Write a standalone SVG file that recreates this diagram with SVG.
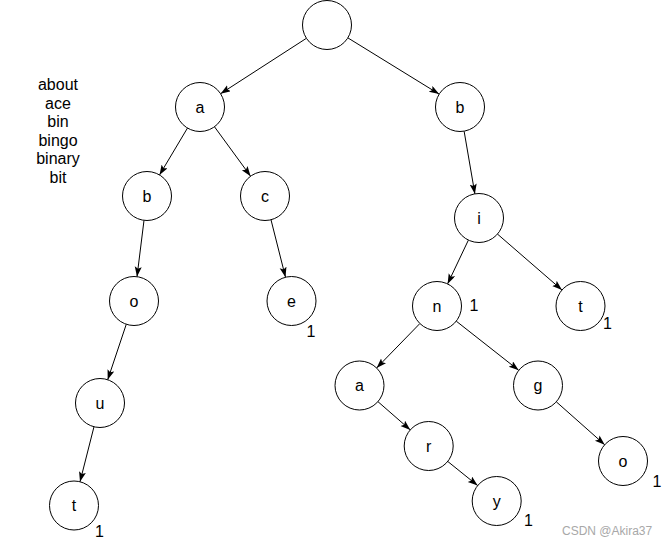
<svg xmlns="http://www.w3.org/2000/svg" width="667" height="546" viewBox="0 0 667 546">
<style>
.n circle{fill:#fff;stroke:#000;stroke-width:1}
text{font-family:"Liberation Sans",Arial,sans-serif;fill:#000}
.n text{font-size:16px;text-anchor:middle}
.cnt{font-size:15px}
.words{font-size:16px;text-anchor:middle}
.e line{stroke:#000;stroke-width:1;marker-end:url(#arr)}
.wm{font-size:12px;fill:#a8a8a8}
</style>
<defs>
<marker id="arr" markerUnits="userSpaceOnUse" markerWidth="10" markerHeight="8" refX="10" refY="3.5" orient="auto">
<path d="M0,0 L10,3.5 L0,7 L2,3.5 z" fill="#000"/>
</marker>
</defs>
<rect width="667" height="546" fill="#fff"/>
<g id="words" class="words">
<text x="58" y="90">about</text>
<text x="58" y="108.5">ace</text>
<text x="58" y="127">bin</text>
<text x="58" y="145.5">bingo</text>
<text x="58" y="164">binary</text>
<text x="58" y="182.5">bit</text>
</g>
<g id="edges" class="e">
<line x1="306.4" y1="38.3" x2="220.6" y2="93.7"/>
<line x1="347.9" y1="37.9" x2="439.1" y2="94.1"/>
<line x1="187.5" y1="128.0" x2="159.5" y2="175.0"/>
<line x1="214.5" y1="126.8" x2="250.6" y2="176.2"/>
<line x1="464.1" y1="131.1" x2="474.9" y2="193.9"/>
<line x1="144.0" y1="220.3" x2="137.0" y2="276.7"/>
<line x1="271.0" y1="219.8" x2="285.5" y2="277.2"/>
<line x1="468.4" y1="240.1" x2="447.6" y2="283.9"/>
<line x1="497.5" y1="234.1" x2="562.0" y2="290.0"/>
<line x1="126.3" y1="324.2" x2="107.7" y2="379.8"/>
<line x1="419.9" y1="323.5" x2="376.6" y2="368.0"/>
<line x1="456.3" y1="321.2" x2="518.7" y2="370.3"/>
<line x1="94.0" y1="426.7" x2="80.0" y2="481.8"/>
<line x1="377.9" y1="401.6" x2="410.3" y2="429.9"/>
<line x1="556.3" y1="401.8" x2="604.7" y2="444.7"/>
<line x1="447.7" y1="461.4" x2="477.7" y2="485.6"/>
</g>
<g id="root" class="n"><circle cx="327" cy="25" r="24.5"/></g>
<g id="n_a" class="n"><circle cx="200" cy="107" r="24.5"/><text x="200" y="112.5">a</text></g>
<g id="n_b" class="n"><circle cx="460" cy="107" r="24.5"/><text x="460" y="112.5">b</text></g>
<g id="n_ab" class="n"><circle cx="147" cy="196" r="24.5"/><text x="147" y="201.5">b</text></g>
<g id="n_ac" class="n"><circle cx="265" cy="196" r="24.5"/><text x="265" y="201.5">c</text></g>
<g id="n_bi" class="n"><circle cx="479" cy="218" r="24.5"/><text x="479" y="223.5">i</text></g>
<g id="n_abo" class="n"><circle cx="134" cy="301" r="24.5"/><text x="134" y="306.5">o</text></g>
<g id="n_ace" class="n"><circle cx="291.5" cy="301" r="24.5"/><text x="291.5" y="306.5">e</text><text class="cnt" x="311" y="336.5" text-anchor="middle">1</text></g>
<g id="n_bin" class="n"><circle cx="437" cy="306" r="24.5"/><text x="437" y="311.5">n</text><text class="cnt" x="474" y="311" text-anchor="middle">1</text></g>
<g id="n_bit" class="n"><circle cx="580.5" cy="306" r="24.5"/><text x="580.5" y="311.5">t</text><text class="cnt" x="607.5" y="328.5" text-anchor="middle">1</text></g>
<g id="n_abou" class="n"><circle cx="100" cy="403" r="24.5"/><text x="100" y="408.5">u</text></g>
<g id="n_bina" class="n"><circle cx="359.5" cy="385.5" r="24.5"/><text x="359.5" y="391">a</text></g>
<g id="n_bing" class="n"><circle cx="538" cy="385.5" r="24.5"/><text x="538" y="391">g</text></g>
<g id="n_about" class="n"><circle cx="74" cy="505.5" r="24.5"/><text x="74" y="511">t</text><text class="cnt" x="99.5" y="536.5" text-anchor="middle">1</text></g>
<g id="n_binar" class="n"><circle cx="428.7" cy="446" r="24.5"/><text x="428.7" y="451.5">r</text></g>
<g id="n_bingo" class="n"><circle cx="623" cy="461" r="24.5"/><text x="623" y="466.5">o</text><text class="cnt" x="657" y="486.5" text-anchor="middle">1</text></g>
<g id="n_binary" class="n"><circle cx="496.7" cy="501" r="24.5"/><text x="496.7" y="506.5">y</text><text class="cnt" x="528.5" y="526" text-anchor="middle">1</text></g>
<text class="wm" x="562" y="535">CSDN @Akira37</text>
</svg>
